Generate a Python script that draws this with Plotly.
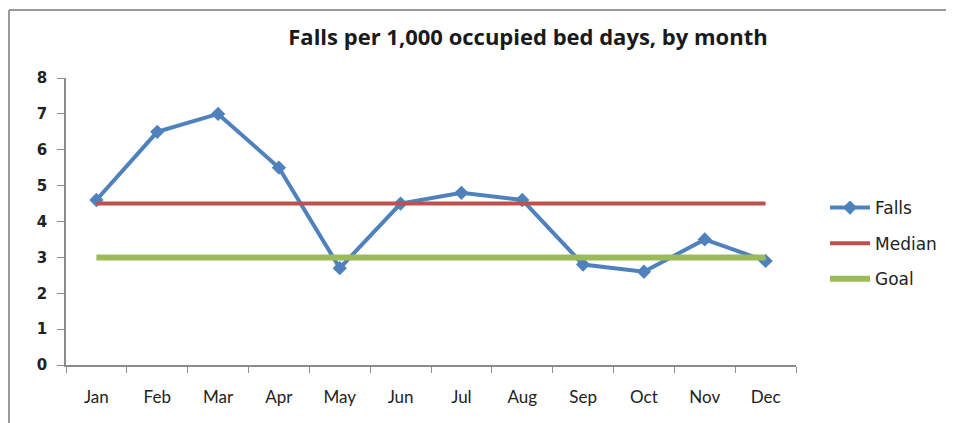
import plotly.graph_objects as go

months = ["Jan", "Feb", "Mar", "Apr", "May", "Jun", "Jul", "Aug", "Sep", "Oct", "Nov", "Dec"]
falls = [4.6, 6.5, 7.0, 5.5, 2.7, 4.5, 4.8, 4.6, 2.8, 2.6, 3.5, 2.9]
median = [4.5] * 12
goal = [3] * 12
y_ticks = [0, 1, 2, 3, 4, 5, 6, 7, 8]

# page has an 8px body margin; work in page coordinates and subtract it
OFF = 8
W, H = 954 - OFF, 423 - OFF
L, R, T, B = 66 - OFF, 158, 78 - OFF, 58

fig = go.Figure()
fig.add_trace(go.Scatter(x=months, y=falls, name="Falls", mode="lines+markers", legendgroup="a",
                         line=dict(color="#4F81BD", width=4),
                         marker=dict(symbol="diamond", size=11, color="#4F81BD")))
fig.add_trace(go.Scatter(x=months, y=median, name="Median", mode="lines", legendgroup="b",
                         line=dict(color="#C0504D", width=4)))
fig.add_trace(go.Scatter(x=months, y=goal, name="Goal", mode="lines", legendgroup="c",
                         line=dict(color="#9BBB59", width=6)))

pw = W - L - R
ph = H - T - B
fig.update_layout(
    width=W, height=H,
    margin=dict(l=L, r=R, t=T, b=B),
    paper_bgcolor="white", plot_bgcolor="white",
    title=dict(text="<b>Falls per 1,000 occupied bed days, by month</b>",
               x=(528 - OFF) / W, xanchor="center", y=1 - (37 - OFF) / H, yanchor="middle",
               font=dict(family="Open Sans", size=22, color="#1a1a1a")),
    font=dict(family="DejaVu Sans", size=14, color="#222"),
    showlegend=True,
    legend=dict(x=(825 - OFF - L) / pw, xanchor="left", y=(H - B - (190 - OFF)) / ph, yanchor="top",
                font=dict(family="DejaVu Sans", size=17, color="#222"),
                tracegroupgap=10.5, itemwidth=40, bgcolor="rgba(0,0,0,0)"),
    xaxis=dict(type="category", tickson="boundaries", ticks="outside", ticklen=6,
               tickcolor="#8c8c8c", showline=True, linecolor="#8c8c8c", linewidth=1.5,
               showgrid=False, zeroline=False, ticklabelstandoff=16,
               tickfont=dict(size=17, family="Lato", color="#222"),
               range=[-0.5, 11.5]),
    yaxis=dict(range=[0, 8], tickvals=y_ticks, ticks="outside", ticklen=7,
               tickcolor="#8c8c8c", showline=True, linecolor="#8c8c8c", linewidth=1.5,
               showgrid=False, zeroline=False, ticklabelstandoff=7,
               tickfont=dict(size=15, family="DejaVu Sans", color="#222", weight="bold")),
    shapes=[
        dict(type="line", xref="paper", yref="paper",
             x0=(9 - OFF - L) / pw, x1=(W - L) / pw, y0=(H - B - (10 - OFF)) / ph, y1=(H - B - (10 - OFF)) / ph,
             line=dict(color="#9a9a9a", width=2)),
        dict(type="line", xref="paper", yref="paper",
             x0=(9 - OFF - L) / pw, x1=(9 - OFF - L) / pw, y0=(H - B - (10 - OFF)) / ph, y1=(H - B - H) / ph,
             line=dict(color="#9a9a9a", width=2)),
    ],
)

fig.write_html("out.html")
